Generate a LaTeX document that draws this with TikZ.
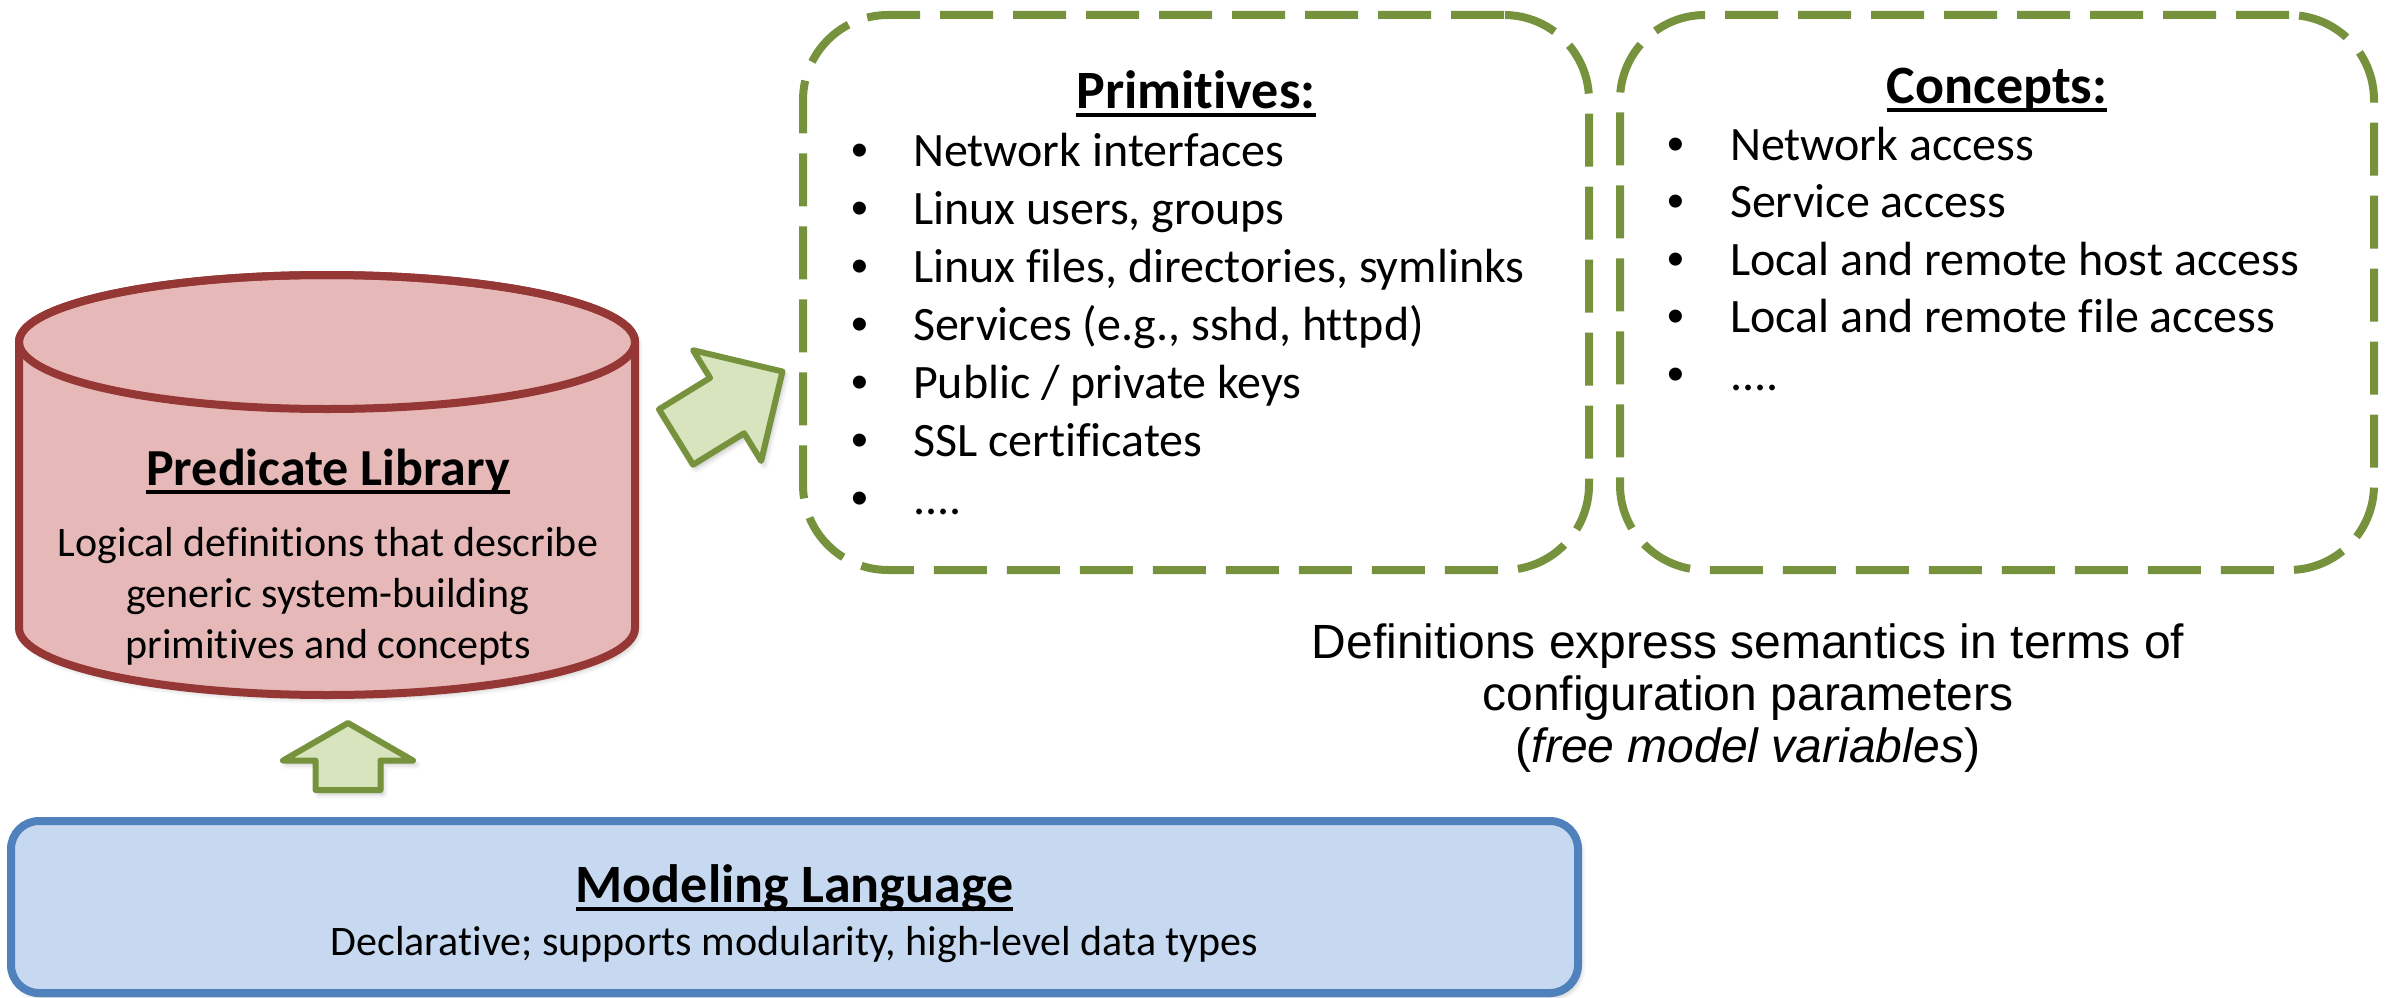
\documentclass[tikz,border=0pt]{standalone}
\usepackage{fontspec}
\setmainfont{Carlito}[Ligatures={NoCommon,NoContextual}, Contextuals=NoAlternate]
\newfontfamily\arialf{Liberation Sans}[Ligatures=NoCommon]
\usetikzlibrary{shapes.arrows,shadows.blur}
\definecolor{grn}{HTML}{76923C}
\definecolor{grnfill}{HTML}{D7E4BD}
\definecolor{redline}{HTML}{953735}
\definecolor{redfill}{HTML}{E6B9B8}
\definecolor{blueline}{HTML}{4F81BD}
\definecolor{bluefill}{HTML}{C6D9F1}
\newsavebox\ulbox
\newcommand\ulined[1]{\sbox\ulbox{#1}\makebox[0pt][l]{\usebox\ulbox}\raisebox{-8.5pt}{\rule{\wd\ulbox}{3.5pt}}}
\newcommand\fs[1]{\fontsize{#1}{#1}\selectfont}
\newcommand\fourdots{....}
\newcommand\nl{\kern0pt }
\begin{document}
\begin{tikzpicture}[x=1pt,y=-1pt,
  every node/.style={inner sep=0pt, outer sep=0pt},
  softshadow/.style={blur shadow={shadow xshift=3pt, shadow yshift=-4pt, shadow blur radius=5pt, shadow opacity=25}},
  dbox/.style={draw=grn, line width=8pt, dash pattern=on 53pt off 20pt, rounded corners=85pt, fill=white},
  blockarrow/.style={single arrow, draw=grn, fill=grnfill, line width=6pt, line join=round, softshadow,
    single arrow head indent=0pt, single arrow head extend=32.5pt, minimum width=0pt,
    text height=0pt, text depth=0pt, inner xsep=0pt, inner ysep=29.5pt},
  title/.style={anchor=base, font=\bfseries\fs{54}},
  itemtext/.style={anchor=base west, font=\fs{48}},
  bulletmark/.style={anchor=base, font=\arialf\fs{48}},
  body/.style={anchor=base, font=\fs{42}},
  deftext/.style={anchor=base, font=\arialf\fs{48}}
]
\useasboundingbox (0,0) rectangle (2391,998);

% Predicate library cylinder
\path[fill=redfill, draw=redline, line width=8pt, softshadow]
  (19,342) -- (19,628) arc[start angle=180, end angle=360, x radius=308pt, y radius=67pt]
  -- (635,342) arc[start angle=0, end angle=180, x radius=308pt, y radius=67pt] -- cycle;
\draw[redline, line width=8pt] (327,342) ellipse [x radius=308pt, y radius=67pt];
\node[anchor=base, font=\bfseries\fs{52}] (libT) at (328,485) {\ulined{Predicate Library}};
\node[body] (lib1) at (328,556) {Logical def\nl init\nl ions that describe};
\node[body] (lib2) at (328,607) {generic system-building};
\node[body] (lib3) at (328,658) {primit\nl ives and concepts};

% Modeling language box
\node[draw=blueline, fill=bluefill, line width=8pt, rounded corners=28pt, softshadow,
      minimum width=1567pt, minimum height=172pt] (ml) at (794.5,907) {};
\node[title] (mlT) at (794.5,902) {\ulined{Modeling Language}};
\node[body] (ml1) at (794.5,955) {Declarat\nl ive; supports modularity, high-level data types};

% Dashed boxes
\node[dbox, minimum width=786pt, minimum height=555pt] (prim) at (1196,292.5) {};
\node[dbox, minimum width=754pt, minimum height=555pt] (conc) at (1997,292.5) {};

\node[title] (primT) at (1196,108) {\ulined{Primit\nl ives:}};
\foreach \t [count=\i] in {{Network interfaces},{Linux users, groups},{Linux f\nl iles, directories, symlinks},{Services (e.g., sshd, ht\nl tpd)},{Public / private keys},{SSL cert\nl if\nl icates},{\fourdots}}{
  \node[bulletmark] (pb\i) at (860,{166+58*(\i-1)}) {•};
  \node[itemtext] (pi\i) at (913,{166+58*(\i-1)}) {\t};
}

\node[title] (concT) at (1997,103) {\ulined{Concepts:}};
\foreach \t [count=\i] in {{Network access},{Service access},{Local and remote host access},{Local and remote f\nl ile access},{\fourdots}}{
  \node[bulletmark] (cb\i) at (1676,{160+57.5*(\i-1)}) {•};
  \node[itemtext] (ci\i) at (1730,{160+57.5*(\i-1)}) {\t};
}

% Definitions text
\node[deftext] (def1) at (1748,658) {Def\nl initions express semantics in terms of};
\node[deftext] (def2) at (1748,710) {conf\nl iguration parameters};
\node[deftext] (def3) at (1748,762) {(\textit{free model variables})};

% Block arrows
\node[blockarrow, minimum height=67pt, single arrow tip angle=120, rotate=90, anchor=tail] (up) at (348,790) {};
\node[blockarrow, minimum height=125pt, single arrow tip angle=90, rotate=31.6, anchor=tail] (diag) at (676,437) {};
\end{tikzpicture}
\end{document}
